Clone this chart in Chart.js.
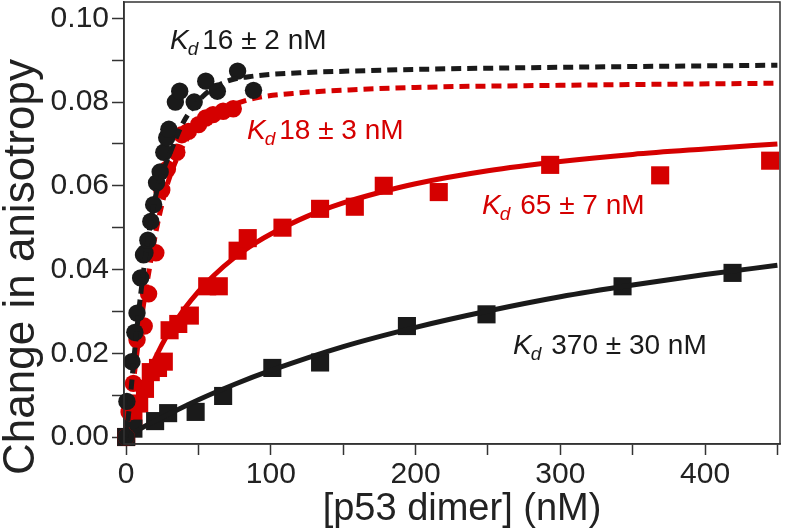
<!DOCTYPE html>
<html><head><meta charset="utf-8">
<script src="https://cdn.jsdelivr.net/npm/chart.js@4.4.0/dist/chart.umd.min.js"></script>
<style>html,body{margin:0;padding:0;background:#fff;}canvas{display:block;}</style>
</head><body>
<canvas id="c" width="793" height="530"></canvas>
<script>
// ---- Data ----
const xTickValues = [0, 50, 100, 150, 200, 250, 300, 350, 400, 450];
const yTickValues = [0, 0.01, 0.02, 0.03, 0.04, 0.05, 0.06, 0.07, 0.08, 0.09, 0.10];

// Kd 16 nM : black circles + black dashed fit
const blackCircleX = [0, 0.5, 4, 6, 7.5, 10, 12, 13, 15, 17, 19, 21, 23.5, 26, 28, 29.5, 34, 37, 47, 55, 63, 77, 88];
const blackCircleY = [0, 0.0085, 0.018, 0.025, 0.0296, 0.038, 0.0435, 0.044, 0.047, 0.0515, 0.0555, 0.0607, 0.0633, 0.068, 0.0715, 0.0735, 0.080, 0.0826, 0.080, 0.085, 0.0826, 0.0874, 0.0828];
const blackDashX = [0, 3, 6, 10, 15, 20, 25, 30, 40, 55, 70, 88, 120, 155, 200, 300, 450];
const blackDashY = [0, 0.010, 0.021, 0.034, 0.047, 0.057, 0.063, 0.0675, 0.0755, 0.082, 0.085, 0.0862, 0.087, 0.0874, 0.0878, 0.0883, 0.0888];

// Kd 18 nM : red circles + red dashed fit
const redCircleX = [0, 2, 5, 7.5, 12.5, 15.5, 20.5, 24.6, 28.5, 35, 38.5, 43, 50, 55, 60, 67, 74];
const redCircleY = [0, 0.006, 0.0128, 0.0232, 0.0265, 0.0342, 0.044, 0.059, 0.064, 0.068, 0.0722, 0.073, 0.0746, 0.0762, 0.077, 0.0778, 0.0784];
const redDashX = [0, 3, 6, 10, 15, 20, 25, 30, 40, 50, 60, 75, 90, 120, 160, 200, 300, 450];
const redDashY = [0, 0.008, 0.016, 0.027, 0.038, 0.048, 0.056, 0.062, 0.070, 0.0745, 0.077, 0.0795, 0.081, 0.0822, 0.083, 0.0835, 0.084, 0.0845];

// Kd 65 nM : red squares + red solid fit
const redSquareX = [0, 5, 9, 13, 17, 22, 26, 30, 36, 44, 56, 64, 77, 84, 108, 134, 158, 178, 216, 293, 369, 445];
const redSquareY = [0, 0.0045, 0.008, 0.0115, 0.0155, 0.0165, 0.018, 0.0255, 0.027, 0.029, 0.036, 0.036, 0.0445, 0.0475, 0.050, 0.0545, 0.055, 0.060, 0.0585, 0.065, 0.0625, 0.066];
const redFitX = [0, 5, 10, 20, 30, 40, 50, 60, 75, 90, 100, 125, 150, 175, 200, 250, 300, 350, 400, 450];
const redFitY = [0, 0.0057, 0.0107, 0.0188, 0.0253, 0.0305, 0.0348, 0.0384, 0.0429, 0.0465, 0.0485, 0.0527, 0.0559, 0.0584, 0.0605, 0.0636, 0.0658, 0.0675, 0.0688, 0.070];

// Kd 370 nM : black squares + black solid fit
const blackSquareX = [0, 5, 20, 29, 48, 67, 101, 134, 194, 249, 343, 419];
const blackSquareY = [0, 0.002, 0.0038, 0.0057, 0.006, 0.0098, 0.0165, 0.0178, 0.0265, 0.0293, 0.036, 0.0392];
const blackFitX = [0, 10, 25, 50, 75, 100, 150, 200, 250, 300, 350, 400, 450];
const blackFitY = [0, 0.002, 0.0047, 0.0089, 0.0126, 0.0159, 0.0216, 0.0262, 0.0301, 0.0335, 0.0363, 0.0388, 0.041];

// Annotations (anchor = left of "K", baseline, in data units)
const annotations = [
  { x: 30.3, y: 0.0926, value: '16 \u00b1 2 nM', gap: 4, color: '#1a1a1a' },
  { x: 83.5, y: 0.0712, value: '18 \u00b1 3 nM', gap: 4, color: '#d50000' },
  { x: 245.9, y: 0.0533, value: '65 \u00b1 7 nM', gap: 10, color: '#d50000' },
  { x: 267.3, y: 0.0199, value: '370 \u00b1 30 nM', gap: 10, color: '#1a1a1a' }
];

const RED = '#d50000';
const BLACK = '#1a1a1a';
const FONT = "'Liberation Sans', Arial, Helvetica, sans-serif";

const pts = (xs, ys) => xs.map((x, i) => ({ x: x, y: ys[i] }));

const lineDs = (xs, ys, color, dashed) => ({
  data: pts(xs, ys), showLine: true, borderColor: color, borderWidth: 5, clip: false,
  borderDash: dashed ? [10, 6] : [], pointRadius: 0, cubicInterpolationMode: 'monotone', fill: false
});
const markDs = (xs, ys, color, style, r) => ({
  data: pts(xs, ys), showLine: false, pointStyle: style, pointRadius: r, clip: false,
  backgroundColor: color, borderColor: color, borderWidth: 0
});

// dataset 0 is drawn on top
const datasets = [
  lineDs(blackDashX, blackDashY, BLACK, true),
  markDs(blackCircleX, blackCircleY, BLACK, 'circle', 8.7),
  lineDs(redDashX, redDashY, RED, true),
  markDs(redCircleX, redCircleY, RED, 'circle', 8.7),
  lineDs(blackFitX, blackFitY, BLACK, false),
  markDs(blackSquareX, blackSquareY, BLACK, 'rect', 12.8),
  lineDs(redFitX, redFitY, RED, false),
  markDs(redSquareX, redSquareY, RED, 'rect', 12.8)
];

const framePlugin = {
  id: 'frame',
  afterDatasetsDraw(chart) {
    const { ctx, scales } = chart;
    ctx.save();
    annotations.forEach(an => {
      const px = scales.x.getPixelForValue(an.x);
      const py = scales.y.getPixelForValue(an.y);
      ctx.fillStyle = an.color;
      ctx.textBaseline = 'alphabetic';
      ctx.textAlign = 'left';
      ctx.font = 'italic 28px ' + FONT;
      ctx.fillText('K', px, py);
      let w = ctx.measureText('K').width;
      ctx.font = 'italic 19px ' + FONT;
      ctx.fillText('d', px + w - 1, py + 6);
      w += ctx.measureText('d').width - 1;
      ctx.font = '28px ' + FONT;
      ctx.fillText(an.value, px + w + an.gap, py);
    });
    ctx.restore();
  },
  afterDraw(chart) {
    const { ctx, chartArea: a } = chart;
    ctx.save();
    ctx.strokeStyle = '#333';
    ctx.lineWidth = 1.5;
    ctx.strokeRect(a.left, a.top, a.right - a.left, a.bottom - a.top);
    ctx.fillStyle = '#222';
    ctx.textAlign = 'center';
    ctx.textBaseline = 'alphabetic';
    ctx.font = '38px ' + FONT;
    ctx.fillText('[p53 dimer] (nM)', 462, 520);
    ctx.font = '44px ' + FONT;
    ctx.translate(34, 267);
    ctx.rotate(-Math.PI / 2);
    ctx.fillText('Change in anisotropy', 0, 0);
    ctx.restore();
  }
};

new Chart(document.getElementById('c'), {
  type: 'scatter',
  data: { datasets: datasets },
  options: {
    responsive: false,
    animation: false,
    layout: { autoPadding: false, padding: { top: 2, right: 13, left: 0, bottom: 0 } },
    plugins: { legend: { display: false }, tooltip: { enabled: false } },
    scales: {
      x: {
        type: 'linear', min: -1.5, max: 451.8,
        afterBuildTicks: s => { s.ticks = xTickValues.map(v => ({ value: v })); },
        afterFit: s => { s.height = 86; s.paddingLeft = 0; s.paddingRight = 0; },
        ticks: {
          autoSkip: false, maxRotation: 0, padding: 2, color: '#222',
          font: { family: FONT, size: 30 },
          callback: v => (v % 100 === 0 ? String(v) : '')
        },
        grid: { drawOnChartArea: false, drawTicks: true, tickLength: 11, tickWidth: 1.5, tickColor: '#333' },
        border: { display: true, color: '#333', width: 1.5 }
      },
      y: {
        type: 'linear', min: -0.00167, max: 0.1039,
        afterBuildTicks: s => { s.ticks = yTickValues.map(v => ({ value: v })); },
        afterFit: s => { s.width = 124; s.paddingTop = 0; s.paddingBottom = 0; },
        ticks: {
          autoSkip: false, padding: 3, color: '#222',
          font: { family: FONT, size: 30 },
          callback: (v, i) => (i % 2 === 0 ? v.toFixed(2) : '')
        },
        grid: { drawOnChartArea: false, drawTicks: true, tickLength: 12, tickWidth: 1.5, tickColor: '#333' },
        border: { display: true, color: '#333', width: 1.5 }
      }
    }
  },
  plugins: [framePlugin]
});
</script>
</body></html>
